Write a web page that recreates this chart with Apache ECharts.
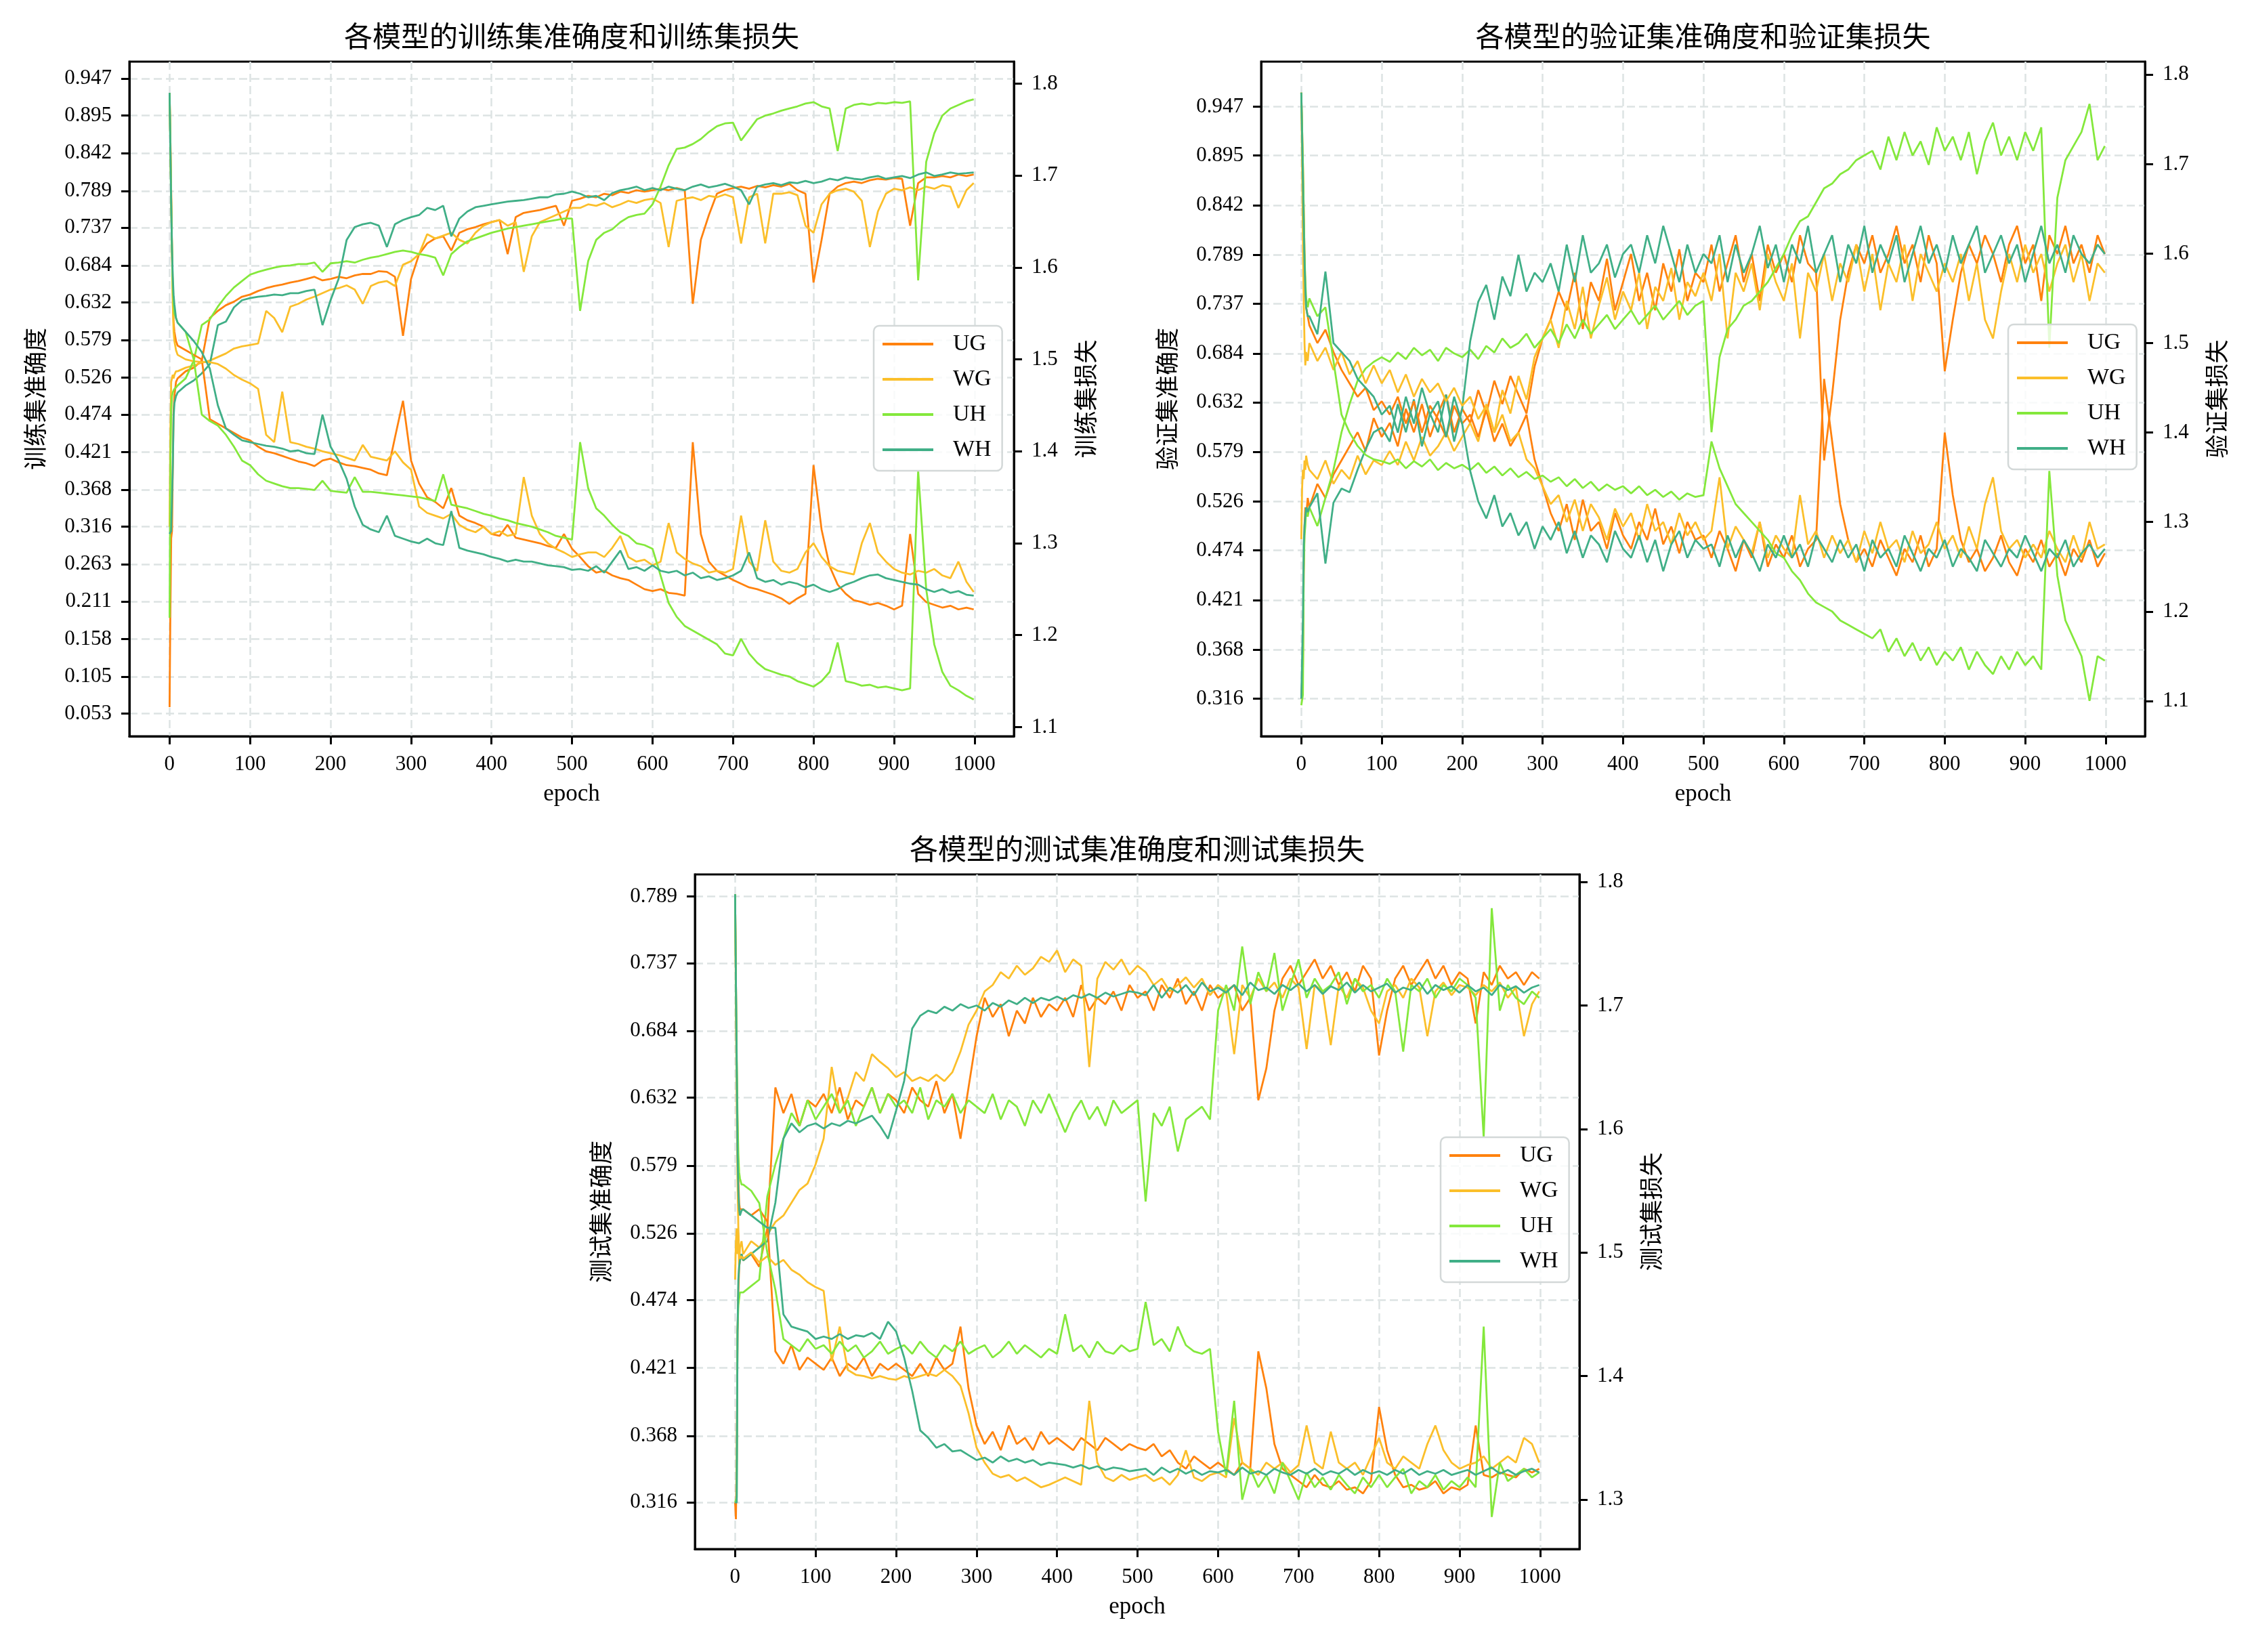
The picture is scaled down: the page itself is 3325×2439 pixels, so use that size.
<!DOCTYPE html>
<html><head><meta charset="utf-8">
<script src="https://cdn.jsdelivr.net/npm/echarts@6/dist/echarts.min.js"></script>
<style>html,body{margin:0;padding:0;background:#fff}#c{width:3325px;height:2439px}</style>
</head><body><div id="c"></div>
<script>
// ---------- shared x values (epochs) ----------
const epochs = [0,1,2,3,4,5,6,8,
 10,20,30,40,50,60,70,80,90,100,
 110,120,130,140,150,160,170,180,190,200,
 210,220,230,240,250,260,270,280,290,300,
 310,320,330,340,350,360,370,380,390,400,
 410,420,430,440,450,460,470,480,490,500,
 510,520,530,540,550,560,570,580,590,600,
 610,620,630,640,650,660,670,680,690,700,
 710,720,730,740,750,760,770,780,790,800,
 810,820,830,840,850,860,870,880,890,900,
 910,920,930,940,950,960,970,980,990,999];

const models = ['UG','WG','UH','WH'];
const xTicks = [0,100,200,300,400,500,600,700,800,900,1000];
const accTicksTrain = [0.053,0.105,0.158,0.211,0.263,0.316,0.368,0.421,0.474,0.526,0.579,0.632,0.684,0.737,0.789,0.842,0.895,0.947];
const accTicksVal = [0.316,0.368,0.421,0.474,0.526,0.579,0.632,0.684,0.737,0.789,0.842,0.895,0.947];
const accTicksTest = [0.316,0.368,0.421,0.474,0.526,0.579,0.632,0.684,0.737,0.789];
const lossTicksTrain = [1.1,1.2,1.3,1.4,1.5,1.6,1.7,1.8];
const lossTicksVal = [1.1,1.2,1.3,1.4,1.5,1.6,1.7,1.8];
const lossTicksTest = [1.3,1.4,1.5,1.6,1.7,1.8];

// ---------- training ----------
const train_acc_UG = [0.062,0.20,0.30,0.31,0.40,0.48,0.50,0.52,
0.525,0.535,0.54,0.55,0.61,0.62,0.628,0.633,0.64,0.643,
0.648,0.652,0.655,0.657,0.66,0.662,0.665,0.668,0.663,0.665,
0.668,0.666,0.670,0.672,0.672,0.676,0.675,0.668,0.585,0.665,
0.70,0.715,0.722,0.725,0.705,0.73,0.735,0.738,0.742,0.745,
0.748,0.70,0.752,0.758,0.76,0.762,0.765,0.768,0.74,0.775,
0.778,0.782,0.78,0.785,0.783,0.788,0.786,0.79,0.788,0.79,
0.792,0.79,0.793,0.79,0.63,0.72,0.755,0.785,0.79,0.793,
0.795,0.792,0.796,0.794,0.797,0.795,0.799,0.79,0.785,0.66,
0.72,0.785,0.795,0.80,0.802,0.80,0.804,0.806,0.805,0.807,
0.806,0.74,0.80,0.808,0.808,0.81,0.808,0.812,0.81,0.812];
const train_acc_WG = [0.316,0.45,0.52,0.525,0.53,0.525,0.53,0.535,
0.535,0.54,0.543,0.547,0.55,0.555,0.56,0.567,0.57,0.572,
0.574,0.62,0.61,0.59,0.626,0.63,0.636,0.64,0.645,0.65,
0.652,0.656,0.65,0.63,0.655,0.66,0.662,0.655,0.685,0.69,
0.70,0.728,0.722,0.726,0.73,0.72,0.715,0.73,0.74,0.745,
0.748,0.74,0.745,0.675,0.725,0.745,0.75,0.755,0.76,0.765,
0.765,0.77,0.768,0.772,0.766,0.77,0.775,0.772,0.776,0.778,
0.772,0.71,0.775,0.778,0.78,0.776,0.782,0.78,0.784,0.78,
0.715,0.78,0.785,0.715,0.785,0.785,0.787,0.783,0.74,0.73,
0.77,0.785,0.79,0.792,0.788,0.775,0.71,0.76,0.785,0.792,
0.79,0.794,0.79,0.795,0.792,0.797,0.795,0.765,0.79,0.80];
const train_acc_UH = [0.188,0.40,0.48,0.50,0.505,0.508,0.51,0.512,
0.515,0.525,0.55,0.60,0.608,0.626,0.641,0.653,0.662,0.671,
0.675,0.678,0.681,0.683,0.684,0.686,0.686,0.688,0.675,0.687,
0.688,0.69,0.688,0.692,0.695,0.697,0.70,0.703,0.705,0.703,
0.70,0.698,0.695,0.67,0.70,0.71,0.718,0.722,0.726,0.73,
0.733,0.736,0.738,0.74,0.742,0.744,0.746,0.748,0.75,0.75,
0.62,0.69,0.72,0.73,0.735,0.745,0.752,0.755,0.757,0.77,
0.795,0.825,0.848,0.85,0.855,0.862,0.872,0.88,0.884,0.885,
0.86,0.875,0.89,0.895,0.898,0.902,0.905,0.908,0.912,0.914,
0.908,0.905,0.845,0.905,0.91,0.912,0.91,0.913,0.912,0.914,
0.913,0.915,0.663,0.83,0.87,0.895,0.905,0.91,0.915,0.918];
const train_acc_WH = [0.306,0.308,0.31,0.31,0.40,0.47,0.49,0.50,
0.505,0.515,0.522,0.532,0.545,0.60,0.605,0.625,0.635,0.638,
0.64,0.641,0.643,0.642,0.645,0.645,0.648,0.65,0.60,0.635,
0.665,0.72,0.738,0.742,0.744,0.74,0.71,0.742,0.748,0.752,
0.755,0.765,0.762,0.768,0.725,0.75,0.76,0.766,0.768,0.77,
0.772,0.774,0.775,0.776,0.778,0.78,0.78,0.784,0.785,0.788,
0.785,0.78,0.782,0.776,0.786,0.79,0.792,0.795,0.79,0.793,
0.79,0.795,0.792,0.79,0.795,0.798,0.794,0.796,0.799,0.795,
0.79,0.77,0.795,0.798,0.80,0.797,0.801,0.80,0.803,0.80,
0.802,0.806,0.804,0.808,0.806,0.805,0.808,0.81,0.806,0.808,
0.81,0.807,0.812,0.815,0.81,0.812,0.815,0.813,0.814,0.815];
const train_loss_UG = [1.79,1.74,1.68,1.62,1.57,1.54,1.53,1.52,
1.515,1.51,1.505,1.50,1.435,1.43,1.425,1.42,1.415,1.412,
1.405,1.40,1.398,1.395,1.392,1.389,1.387,1.384,1.39,1.392,
1.388,1.385,1.384,1.382,1.38,1.376,1.374,1.415,1.455,1.39,
1.365,1.35,1.345,1.338,1.36,1.33,1.325,1.322,1.318,1.31,
1.308,1.32,1.306,1.304,1.302,1.30,1.297,1.295,1.31,1.294,
1.285,1.275,1.268,1.27,1.265,1.262,1.26,1.255,1.25,1.248,
1.25,1.246,1.245,1.243,1.41,1.31,1.28,1.27,1.265,1.26,
1.256,1.252,1.25,1.247,1.244,1.24,1.234,1.24,1.245,1.385,
1.315,1.275,1.255,1.245,1.238,1.236,1.233,1.235,1.232,1.228,
1.232,1.31,1.245,1.236,1.233,1.23,1.232,1.228,1.23,1.228];
const train_loss_WG = [1.79,1.74,1.68,1.62,1.56,1.53,1.52,1.51,
1.505,1.50,1.498,1.497,1.497,1.495,1.49,1.483,1.478,1.474,
1.468,1.418,1.41,1.465,1.41,1.408,1.405,1.403,1.40,1.398,
1.396,1.393,1.39,1.407,1.394,1.392,1.39,1.40,1.388,1.38,
1.34,1.333,1.33,1.327,1.332,1.32,1.315,1.312,1.318,1.31,
1.313,1.308,1.31,1.372,1.33,1.31,1.30,1.294,1.29,1.285,
1.288,1.29,1.29,1.285,1.295,1.308,1.285,1.28,1.282,1.276,
1.28,1.322,1.29,1.283,1.278,1.275,1.268,1.27,1.268,1.272,
1.33,1.28,1.27,1.325,1.28,1.27,1.268,1.272,1.29,1.30,
1.285,1.275,1.27,1.268,1.266,1.30,1.322,1.29,1.28,1.272,
1.268,1.266,1.27,1.268,1.272,1.265,1.262,1.28,1.258,1.247];
const train_loss_UH = [1.79,1.73,1.67,1.62,1.58,1.56,1.55,1.545,
1.54,1.53,1.50,1.44,1.433,1.428,1.418,1.405,1.39,1.385,
1.375,1.368,1.365,1.362,1.36,1.36,1.359,1.358,1.368,1.357,
1.356,1.355,1.372,1.356,1.356,1.355,1.354,1.353,1.352,1.351,
1.35,1.348,1.346,1.375,1.342,1.34,1.338,1.335,1.332,1.33,
1.327,1.325,1.322,1.32,1.318,1.315,1.312,1.308,1.306,1.304,
1.41,1.36,1.338,1.33,1.32,1.312,1.308,1.30,1.298,1.294,
1.265,1.235,1.22,1.21,1.205,1.20,1.195,1.19,1.18,1.178,
1.196,1.18,1.17,1.163,1.16,1.157,1.155,1.15,1.147,1.144,
1.15,1.16,1.192,1.15,1.148,1.145,1.146,1.143,1.144,1.142,
1.14,1.142,1.379,1.25,1.19,1.16,1.145,1.14,1.134,1.13];
const train_loss_WH = [1.79,1.73,1.67,1.62,1.59,1.57,1.56,1.545,
1.54,1.53,1.52,1.508,1.49,1.45,1.425,1.418,1.412,1.41,
1.408,1.406,1.405,1.403,1.40,1.401,1.398,1.397,1.44,1.405,
1.39,1.37,1.34,1.32,1.315,1.312,1.33,1.308,1.305,1.302,
1.30,1.305,1.30,1.298,1.335,1.295,1.292,1.29,1.288,1.285,
1.283,1.28,1.282,1.28,1.28,1.278,1.276,1.275,1.274,1.271,
1.272,1.27,1.275,1.268,1.28,1.292,1.272,1.274,1.27,1.276,
1.27,1.268,1.27,1.265,1.268,1.262,1.264,1.26,1.262,1.265,
1.27,1.29,1.262,1.258,1.26,1.255,1.258,1.256,1.252,1.255,
1.25,1.247,1.25,1.255,1.258,1.262,1.265,1.266,1.262,1.26,
1.258,1.256,1.255,1.25,1.247,1.25,1.246,1.248,1.244,1.243];

// ---------- validation ----------
const val_acc_UG = [0.316,0.316,0.35,0.45,0.50,0.52,0.51,0.53,
0.52,0.545,0.53,0.555,0.57,0.585,0.60,0.58,0.615,0.595,
0.61,0.585,0.625,0.60,0.63,0.595,0.62,0.64,0.60,0.625,
0.61,0.645,0.62,0.655,0.63,0.66,0.64,0.62,0.67,0.70,
0.72,0.75,0.73,0.77,0.71,0.76,0.74,0.785,0.73,0.76,
0.79,0.74,0.77,0.73,0.78,0.75,0.795,0.74,0.77,0.76,
0.80,0.75,0.78,0.81,0.76,0.79,0.74,0.80,0.77,0.79,
0.76,0.81,0.78,0.77,0.57,0.64,0.72,0.77,0.80,0.78,
0.81,0.77,0.79,0.82,0.78,0.80,0.76,0.81,0.78,0.665,
0.72,0.77,0.80,0.78,0.81,0.79,0.76,0.80,0.82,0.78,
0.80,0.74,0.81,0.79,0.82,0.78,0.80,0.77,0.81,0.79];
const val_acc_WG = [0.486,0.54,0.56,0.55,0.57,0.56,0.575,0.565,
0.56,0.55,0.57,0.545,0.56,0.55,0.575,0.555,0.57,0.565,
0.58,0.565,0.59,0.57,0.595,0.575,0.585,0.60,0.58,0.595,
0.61,0.59,0.63,0.60,0.645,0.62,0.66,0.635,0.68,0.70,
0.72,0.69,0.74,0.71,0.755,0.70,0.735,0.765,0.72,0.75,
0.73,0.77,0.71,0.755,0.74,0.775,0.72,0.76,0.745,0.77,
0.74,0.79,0.70,0.77,0.75,0.78,0.73,0.79,0.76,0.74,
0.78,0.70,0.77,0.75,0.79,0.74,0.78,0.76,0.80,0.75,
0.79,0.73,0.78,0.76,0.80,0.74,0.79,0.77,0.75,0.78,
0.76,0.79,0.74,0.78,0.72,0.70,0.75,0.79,0.76,0.80,
0.77,0.79,0.75,0.78,0.80,0.76,0.79,0.74,0.78,0.77];
const val_acc_UH = [0.309,0.309,0.32,0.45,0.49,0.50,0.52,0.51,
0.52,0.50,0.53,0.56,0.60,0.63,0.655,0.668,0.675,0.68,
0.675,0.685,0.678,0.69,0.682,0.688,0.676,0.69,0.684,0.68,
0.688,0.678,0.692,0.685,0.70,0.69,0.695,0.705,0.69,0.70,
0.71,0.695,0.715,0.70,0.72,0.705,0.715,0.725,0.71,0.72,
0.73,0.715,0.725,0.735,0.72,0.73,0.74,0.725,0.735,0.74,
0.60,0.68,0.71,0.72,0.735,0.74,0.75,0.76,0.775,0.79,
0.81,0.825,0.83,0.845,0.86,0.865,0.875,0.88,0.89,0.895,
0.90,0.88,0.915,0.89,0.92,0.895,0.91,0.885,0.925,0.90,
0.915,0.89,0.92,0.875,0.91,0.93,0.895,0.915,0.89,0.92,
0.90,0.925,0.69,0.85,0.89,0.905,0.92,0.95,0.89,0.905];
const val_acc_WH = [0.316,0.316,0.40,0.48,0.50,0.51,0.52,0.515,
0.52,0.535,0.46,0.525,0.54,0.536,0.56,0.582,0.60,0.605,
0.59,0.63,0.60,0.635,0.585,0.62,0.60,0.64,0.59,0.625,
0.697,0.739,0.757,0.72,0.766,0.745,0.789,0.75,0.77,0.76,
0.78,0.75,0.80,0.76,0.81,0.77,0.78,0.80,0.765,0.79,
0.80,0.77,0.81,0.78,0.82,0.79,0.76,0.80,0.77,0.79,
0.78,0.81,0.76,0.80,0.77,0.79,0.82,0.775,0.80,0.76,
0.80,0.78,0.82,0.77,0.79,0.81,0.76,0.80,0.78,0.82,
0.77,0.80,0.78,0.81,0.76,0.79,0.82,0.78,0.80,0.77,
0.81,0.78,0.80,0.82,0.77,0.79,0.81,0.78,0.80,0.76,
0.79,0.82,0.78,0.80,0.77,0.81,0.79,0.78,0.80,0.79];
const val_loss_UG = [1.78,1.74,1.70,1.65,1.60,1.56,1.54,1.53,
1.52,1.50,1.515,1.49,1.47,1.455,1.44,1.45,1.425,1.435,
1.42,1.44,1.41,1.435,1.40,1.43,1.415,1.395,1.43,1.41,
1.42,1.395,1.425,1.39,1.41,1.385,1.40,1.42,1.37,1.34,
1.31,1.29,1.32,1.28,1.325,1.29,1.30,1.27,1.31,1.285,
1.27,1.30,1.28,1.315,1.275,1.295,1.265,1.30,1.28,1.285,
1.26,1.29,1.27,1.245,1.28,1.26,1.30,1.25,1.275,1.26,
1.285,1.25,1.27,1.28,1.46,1.39,1.32,1.28,1.255,1.27,
1.25,1.28,1.26,1.24,1.27,1.255,1.285,1.25,1.27,1.40,
1.33,1.28,1.255,1.27,1.245,1.26,1.285,1.255,1.24,1.27,
1.255,1.28,1.25,1.265,1.24,1.27,1.255,1.28,1.25,1.265];
const val_loss_WG = [1.78,1.70,1.62,1.55,1.50,1.475,1.49,1.48,
1.50,1.48,1.495,1.47,1.49,1.465,1.48,1.455,1.475,1.455,
1.47,1.445,1.465,1.44,1.46,1.445,1.455,1.435,1.45,1.43,
1.44,1.415,1.43,1.40,1.42,1.39,1.40,1.37,1.36,1.34,
1.32,1.33,1.30,1.325,1.29,1.32,1.305,1.28,1.315,1.295,
1.31,1.28,1.32,1.29,1.30,1.275,1.31,1.285,1.30,1.28,
1.29,1.35,1.27,1.295,1.28,1.265,1.30,1.26,1.285,1.27,
1.26,1.33,1.275,1.29,1.26,1.285,1.265,1.28,1.255,1.29,
1.265,1.30,1.27,1.28,1.255,1.29,1.265,1.275,1.30,1.27,
1.285,1.26,1.295,1.27,1.32,1.35,1.29,1.27,1.28,1.26,
1.275,1.26,1.29,1.27,1.255,1.285,1.26,1.30,1.27,1.275];
const val_loss_UH = [1.78,1.74,1.70,1.65,1.60,1.57,1.55,1.54,
1.55,1.53,1.54,1.48,1.42,1.40,1.385,1.375,1.37,1.368,
1.365,1.37,1.36,1.368,1.362,1.37,1.358,1.366,1.36,1.364,
1.358,1.366,1.355,1.362,1.352,1.36,1.35,1.356,1.348,1.352,
1.345,1.35,1.34,1.348,1.338,1.345,1.335,1.342,1.336,1.34,
1.332,1.34,1.33,1.336,1.328,1.334,1.325,1.332,1.328,1.33,
1.39,1.36,1.34,1.32,1.31,1.30,1.29,1.28,1.265,1.26,
1.245,1.235,1.22,1.21,1.205,1.20,1.19,1.185,1.18,1.175,
1.17,1.18,1.155,1.17,1.15,1.165,1.145,1.16,1.14,1.155,
1.145,1.16,1.135,1.155,1.14,1.13,1.15,1.135,1.155,1.14,
1.15,1.135,1.357,1.24,1.19,1.17,1.15,1.10,1.15,1.145];
const val_loss_WH = [1.78,1.73,1.68,1.63,1.59,1.56,1.54,1.53,
1.53,1.51,1.58,1.50,1.49,1.48,1.46,1.45,1.44,1.42,
1.43,1.40,1.44,1.41,1.45,1.42,1.435,1.395,1.44,1.41,
1.357,1.323,1.304,1.33,1.295,1.31,1.285,1.30,1.27,1.295,
1.28,1.30,1.265,1.29,1.26,1.285,1.275,1.255,1.29,1.27,
1.26,1.285,1.255,1.28,1.245,1.275,1.29,1.26,1.28,1.27,
1.275,1.25,1.285,1.26,1.28,1.265,1.245,1.275,1.26,1.285,
1.26,1.275,1.25,1.285,1.27,1.255,1.28,1.26,1.275,1.245,
1.28,1.26,1.27,1.25,1.285,1.265,1.245,1.27,1.26,1.28,
1.25,1.27,1.26,1.245,1.28,1.265,1.25,1.27,1.26,1.285,
1.265,1.245,1.27,1.26,1.28,1.25,1.265,1.275,1.26,1.27];

// ---------- test ----------
const test_acc_UG = [0.316,0.303,0.35,0.45,0.48,0.50,0.505,0.51,
0.505,0.51,0.50,0.53,0.64,0.62,0.635,0.61,0.63,0.625,
0.635,0.62,0.64,0.615,0.63,0.625,0.64,0.62,0.635,0.63,
0.62,0.64,0.63,0.625,0.645,0.62,0.635,0.60,0.64,0.68,
0.71,0.695,0.705,0.68,0.70,0.69,0.71,0.695,0.705,0.70,
0.71,0.695,0.72,0.70,0.71,0.705,0.715,0.70,0.72,0.71,
0.715,0.70,0.72,0.71,0.725,0.705,0.715,0.70,0.72,0.71,
0.715,0.72,0.70,0.71,0.63,0.655,0.70,0.725,0.735,0.72,
0.73,0.74,0.725,0.735,0.72,0.73,0.715,0.735,0.725,0.665,
0.70,0.725,0.735,0.72,0.73,0.74,0.725,0.735,0.72,0.73,
0.725,0.69,0.73,0.72,0.735,0.725,0.73,0.72,0.73,0.725];
const test_acc_WG = [0.49,0.52,0.53,0.51,0.525,0.50,0.515,0.52,
0.51,0.52,0.515,0.525,0.535,0.54,0.55,0.56,0.565,0.58,
0.60,0.656,0.62,0.632,0.652,0.645,0.666,0.66,0.655,0.648,
0.652,0.645,0.648,0.645,0.65,0.645,0.652,0.668,0.689,0.70,
0.715,0.72,0.73,0.725,0.735,0.728,0.733,0.742,0.738,0.747,
0.73,0.74,0.735,0.656,0.725,0.738,0.732,0.74,0.728,0.735,
0.73,0.72,0.725,0.715,0.72,0.726,0.718,0.725,0.712,0.72,
0.715,0.666,0.72,0.71,0.725,0.715,0.722,0.71,0.725,0.718,
0.67,0.72,0.715,0.673,0.72,0.71,0.725,0.718,0.70,0.69,
0.715,0.72,0.71,0.725,0.718,0.68,0.715,0.722,0.712,0.72,
0.718,0.712,0.72,0.715,0.722,0.71,0.718,0.68,0.705,0.715];
const test_acc_UH = [0.316,0.316,0.32,0.45,0.47,0.475,0.48,0.48,
0.48,0.485,0.49,0.555,0.58,0.60,0.62,0.61,0.63,0.615,
0.625,0.635,0.62,0.63,0.61,0.625,0.64,0.62,0.635,0.625,
0.63,0.62,0.64,0.615,0.63,0.625,0.635,0.62,0.63,0.625,
0.62,0.635,0.615,0.63,0.625,0.61,0.63,0.62,0.635,0.62,
0.605,0.62,0.63,0.615,0.625,0.61,0.63,0.62,0.625,0.63,
0.551,0.62,0.61,0.625,0.59,0.615,0.62,0.625,0.615,0.70,
0.72,0.70,0.75,0.705,0.73,0.715,0.745,0.70,0.72,0.74,
0.71,0.725,0.715,0.72,0.73,0.705,0.725,0.715,0.72,0.71,
0.725,0.715,0.668,0.72,0.715,0.725,0.71,0.72,0.715,0.725,
0.72,0.71,0.601,0.78,0.70,0.72,0.71,0.705,0.715,0.71];
const test_acc_WH = [0.316,0.316,0.316,0.45,0.49,0.50,0.505,0.51,
0.505,0.51,0.515,0.52,0.55,0.60,0.612,0.605,0.61,0.612,
0.608,0.612,0.61,0.614,0.612,0.615,0.618,0.61,0.60,0.622,
0.645,0.686,0.696,0.70,0.698,0.703,0.70,0.705,0.702,0.704,
0.70,0.706,0.703,0.708,0.705,0.71,0.706,0.71,0.708,0.711,
0.708,0.712,0.71,0.713,0.71,0.714,0.711,0.713,0.715,0.714,
0.712,0.72,0.71,0.718,0.714,0.72,0.712,0.722,0.715,0.718,
0.714,0.72,0.712,0.722,0.716,0.718,0.713,0.72,0.716,0.721,
0.715,0.72,0.713,0.719,0.716,0.722,0.714,0.72,0.715,0.718,
0.721,0.714,0.718,0.716,0.722,0.713,0.72,0.716,0.719,0.714,
0.72,0.715,0.718,0.712,0.72,0.716,0.719,0.714,0.718,0.72];
const test_loss_UG = [1.79,1.72,1.65,1.60,1.56,1.54,1.535,1.535,
1.535,1.53,1.535,1.525,1.42,1.41,1.425,1.405,1.415,1.41,
1.405,1.415,1.40,1.41,1.405,1.415,1.40,1.41,1.405,1.41,
1.405,1.40,1.41,1.40,1.415,1.405,1.41,1.44,1.39,1.36,
1.345,1.355,1.34,1.36,1.345,1.35,1.34,1.355,1.345,1.35,
1.345,1.34,1.35,1.345,1.34,1.35,1.345,1.34,1.345,1.342,
1.34,1.345,1.335,1.34,1.33,1.325,1.335,1.33,1.325,1.33,
1.325,1.32,1.33,1.325,1.42,1.39,1.345,1.325,1.32,1.315,
1.31,1.32,1.312,1.31,1.315,1.308,1.31,1.305,1.315,1.375,
1.34,1.32,1.31,1.312,1.308,1.31,1.315,1.305,1.31,1.308,
1.312,1.36,1.32,1.318,1.322,1.32,1.318,1.325,1.322,1.325];
const test_loss_WG = [1.79,1.70,1.62,1.56,1.52,1.50,1.495,1.497,
1.495,1.50,1.492,1.497,1.49,1.494,1.486,1.482,1.476,1.472,
1.469,1.412,1.44,1.405,1.401,1.40,1.398,1.40,1.398,1.397,
1.40,1.398,1.40,1.402,1.40,1.405,1.40,1.392,1.37,1.342,
1.33,1.321,1.318,1.32,1.315,1.318,1.314,1.31,1.312,1.315,
1.318,1.315,1.312,1.38,1.33,1.318,1.315,1.32,1.316,1.318,
1.32,1.315,1.318,1.312,1.32,1.34,1.318,1.315,1.32,1.322,
1.318,1.366,1.33,1.325,1.32,1.33,1.325,1.33,1.322,1.328,
1.36,1.33,1.325,1.355,1.33,1.325,1.33,1.32,1.335,1.35,
1.33,1.325,1.335,1.33,1.325,1.345,1.36,1.34,1.33,1.325,
1.328,1.33,1.335,1.325,1.33,1.335,1.33,1.35,1.345,1.33];
const test_loss_UH = [1.79,1.72,1.66,1.61,1.58,1.565,1.56,1.555,
1.555,1.55,1.54,1.50,1.47,1.43,1.425,1.42,1.43,1.422,
1.425,1.418,1.428,1.42,1.425,1.415,1.42,1.428,1.418,1.422,
1.425,1.418,1.428,1.42,1.415,1.425,1.42,1.428,1.418,1.422,
1.425,1.415,1.42,1.428,1.418,1.425,1.42,1.415,1.422,1.418,
1.45,1.42,1.425,1.415,1.428,1.42,1.418,1.425,1.42,1.422,
1.46,1.425,1.43,1.42,1.44,1.425,1.42,1.418,1.422,1.355,
1.32,1.38,1.30,1.325,1.31,1.32,1.305,1.33,1.315,1.30,
1.322,1.31,1.318,1.308,1.32,1.312,1.305,1.318,1.31,1.32,
1.31,1.318,1.325,1.305,1.315,1.31,1.32,1.308,1.315,1.31,
1.318,1.31,1.44,1.286,1.33,1.315,1.32,1.325,1.318,1.322];
const test_loss_WH = [1.79,1.72,1.65,1.58,1.55,1.535,1.53,1.534,
1.535,1.53,1.525,1.52,1.52,1.45,1.44,1.438,1.436,1.43,
1.432,1.43,1.434,1.43,1.433,1.432,1.435,1.43,1.444,1.436,
1.415,1.388,1.356,1.35,1.342,1.345,1.339,1.34,1.336,1.332,
1.334,1.33,1.335,1.331,1.333,1.33,1.332,1.328,1.33,1.329,
1.328,1.326,1.328,1.325,1.327,1.324,1.326,1.325,1.323,1.324,
1.325,1.32,1.326,1.322,1.325,1.321,1.324,1.32,1.323,1.322,
1.324,1.32,1.326,1.321,1.323,1.32,1.325,1.322,1.32,1.324,
1.321,1.325,1.32,1.323,1.321,1.325,1.32,1.324,1.321,1.323,
1.32,1.324,1.321,1.325,1.32,1.323,1.321,1.324,1.32,1.322,
1.324,1.32,1.323,1.326,1.321,1.324,1.32,1.323,1.325,1.322];

// ---------- build chart ----------
const colors = {UG:'#ff820e', WG:'#fbbf2a', UH:'#84e83c', WH:'#40af87'};
const FONT = "'Liberation Serif','Noto Sans CJK SC',serif";

const panels = [
  {title:'各模型的训练集准确度和训练集损失', yl:'训练集准确度', yr:'训练集损失',
   grid:{left:191, top:91, width:1306, height:996}, accRange:[0.021,0.971], lossRange:[1.090,1.824],
   accTicks:accTicksTrain, lossTicks:lossTicksTrain,
   acc:{UG:train_acc_UG, WG:train_acc_WG, UH:train_acc_UH, WH:train_acc_WH},
   loss:{UG:train_loss_UG, WG:train_loss_WG, UH:train_loss_UH, WH:train_loss_WH},
   legend:{left:1290, top:481}},
  {title:'各模型的验证集准确度和验证集损失', yl:'验证集准确度', yr:'验证集损失',
   grid:{left:1862, top:91, width:1305, height:996}, accRange:[0.276,0.995], lossRange:[1.0605,1.8146],
   accTicks:accTicksVal, lossTicks:lossTicksVal,
   acc:{UG:val_acc_UG, WG:val_acc_WG, UH:val_acc_UH, WH:val_acc_WH},
   loss:{UG:val_loss_UG, WG:val_loss_WG, UH:val_loss_UH, WH:val_loss_WH},
   legend:{left:2965, top:479}},
  {title:'各模型的测试集准确度和测试集损失', yl:'测试集准确度', yr:'测试集损失',
   grid:{left:1026, top:1291, width:1306, height:996}, accRange:[0.2797,0.8063], lossRange:[1.26,1.806],
   accTicks:accTicksTest, lossTicks:lossTicksTest,
   acc:{UG:test_acc_UG, WG:test_acc_WG, UH:test_acc_UH, WH:test_acc_WH},
   loss:{UG:test_loss_UG, WG:test_loss_WG, UH:test_loss_UH, WH:test_loss_WH},
   legend:{left:2127, top:1679}}
];

// sanity check of array lengths
panels.forEach(p => models.forEach(m => {
  if (p.acc[m].length !== epochs.length) throw new Error(p.yl + ' acc ' + m + ' len ' + p.acc[m].length);
  if (p.loss[m].length !== epochs.length) throw new Error(p.yr + ' loss ' + m + ' len ' + p.loss[m].length);
}));

const tickStyle = {show:true, inside:false, length:12, lineStyle:{color:'#000', width:3}};
const axisLineStyle = {show:true, onZero:false, lineStyle:{color:'#000', width:3}};
const gridLine = {show:true, lineStyle:{color:'#dde3e3', width:2.5, type:[12,6]}};
const labelBase = {color:'#000', fontSize:31, fontFamily:FONT, margin:26};

const option = {
  animation:false, backgroundColor:'#fff',
  title:[], grid:[], xAxis:[], yAxis:[], series:[], legend:[]
};

panels.forEach((p, gi) => {
  option.grid.push(Object.assign({show:true, borderColor:'#000', borderWidth:3, containLabel:false}, p.grid));
  option.title.push({text:p.title, left:p.grid.left + p.grid.width/2, top:p.grid.top - 54, textAlign:'center', padding:0,
    textStyle:{fontSize:42, fontWeight:'normal', color:'#000', fontFamily:FONT}});
  option.xAxis.push({type:'value', gridIndex:gi, min:-49.95, max:1048.95,
    name:'epoch', nameLocation:'middle', nameGap:68, nameTextStyle:{fontSize:35, color:'#000', fontFamily:FONT},
    axisLine:axisLineStyle, axisTick:Object.assign({customValues:xTicks}, tickStyle),
    axisLabel:Object.assign({customValues:xTicks, formatter:v => String(Math.round(v))}, labelBase), splitLine:gridLine});
  option.yAxis.push({type:'value', gridIndex:gi, position:'left', min:p.accRange[0], max:p.accRange[1],
    name:p.yl, nameLocation:'middle', nameRotate:90, nameGap:118, nameTextStyle:{fontSize:35, color:'#000', fontFamily:FONT},
    axisLine:axisLineStyle, axisTick:Object.assign({customValues:p.accTicks}, tickStyle),
    axisLabel:Object.assign({customValues:p.accTicks, formatter:v => v.toFixed(3)}, labelBase), splitLine:gridLine});
  option.yAxis.push({type:'value', gridIndex:gi, position:'right', min:p.lossRange[0], max:p.lossRange[1],
    name:p.yr, nameLocation:'middle', nameRotate:90, nameGap:92, nameTextStyle:{fontSize:35, color:'#000', fontFamily:FONT},
    axisLine:axisLineStyle, axisTick:Object.assign({customValues:p.lossTicks}, tickStyle),
    axisLabel:Object.assign({customValues:p.lossTicks, formatter:v => v.toFixed(1)}, labelBase), splitLine:{show:false}});
  ['acc','loss'].forEach((kind, k) => {
    models.forEach(m => {
      option.series.push({type:'line', name:m, xAxisIndex:gi, yAxisIndex:gi*2 + k,
        data:epochs.map((e, i) => [e, p[kind][m][i]]),
        showSymbol:false, symbol:'none', lineStyle:{color:colors[m], width:2.8}, itemStyle:{color:colors[m]},
        z: 2 + k, emphasis:{disabled:true}});
    });
  });
  option.legend.push({data:models, orient:'vertical', left:p.legend.left, top:p.legend.top,
    icon:'rect', itemWidth:75, itemHeight:4, itemGap:18,
    padding:[10,16,14,13], backgroundColor:'rgba(255,255,255,0.8)', borderColor:'#d3d8d8', borderWidth:2.5, borderRadius:8,
    textStyle:{fontSize:34, lineHeight:34, color:'#000', fontFamily:FONT, padding:[0,0,0,24]}, selectedMode:false});
});

const chart = echarts.init(document.getElementById('c'), null, {renderer:'canvas'});
chart.setOption(option);
</script>
</body></html>
